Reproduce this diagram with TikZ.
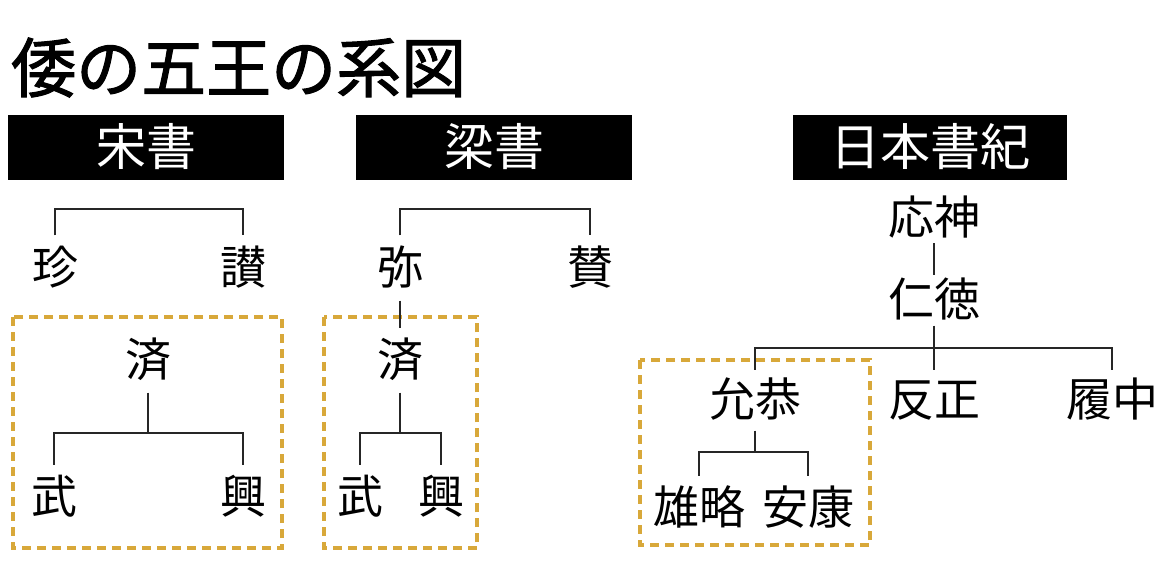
\documentclass[tikz,border=0pt]{standalone}
\usepackage{fontspec}
\newfontfamily\cjk{Noto Sans CJK JP}
\newfontfamily\cjkt{Noto Sans CJK JP}[FakeBold=1.6]
\begin{document}
\begin{tikzpicture}[x=1pt,y=-1pt,
  conn/.style={draw=black!85, line width=2pt},
  dbox/.style={draw={rgb,255:red,216;green,168;blue,58}, line width=3.5pt, dash pattern=on 9pt off 6pt},
  hdr/.style={fill=black, text=white, inner sep=0pt, minimum height=65pt,
    font=\cjk\fontsize{50}{50}\selectfont, text height=40pt, text depth=4pt},
  nm/.style={inner sep=0pt, outer ysep=12pt, font=\cjk\fontsize{46}{46}\selectfont,
    text height=37pt, text depth=4pt},
  ttl/.style={inner sep=0pt, anchor=west, font=\cjkt\fontsize{65}{65}\selectfont,
    text height=52pt, text depth=6pt}]
\fill[white] (0,0) rectangle (1170,564);
\useasboundingbox (0,0) rectangle (1170,564);

% title
\node[ttl] (title) at (11,69) {倭の五王の系図};

% headers
\node[hdr, minimum width=276pt] (song) at (146,147.5) {宋書};
\node[hdr, minimum width=276pt] (liang) at (494,147.5) {梁書};
\node[hdr, minimum width=274pt] (nihon) at (930,147.5) {日本書紀};

% dashed frames
\draw[dbox] (13,317) rectangle (282,548);
\draw[dbox] (324,317) rectangle (477,548);
\draw[dbox] (640,360) rectangle (870,545);

% Song shu
\node[nm] (chin) at (55,268) {珍};
\node[nm] (san) at (243,268) {讃};
\node[nm] (sai1) at (148,360) {済};
\node[nm] (bu1) at (54,497) {武};
\node[nm] (kou1) at (243,497) {興};
\coordinate (songtop) at (150,209);
\coordinate (songj) at (148,433);
\draw[conn] (chin.north) |- (songtop) -| (san.north);
\draw[conn] (sai1.south) -- (songj);
\draw[conn] (bu1.north) |- (songj) -| (kou1.north);

% Liang shu
\node[nm] (mi) at (400,268) {弥};
\node[nm] (san2) at (590,268) {賛};
\node[nm] (sai2) at (400,360) {済};
\node[nm] (bu2) at (360,497) {武};
\node[nm] (kou2) at (441,497) {興};
\coordinate (liangtop) at (495,209);
\coordinate (liangj) at (400,433);
\draw[conn] (mi.north) |- (liangtop) -| (san2.north);
\draw[conn] (mi.south) -- (sai2.north);
\draw[conn] (sai2.south) -- (liangj);
\draw[conn] (bu2.north) |- (liangj) -| (kou2.north);

% Nihon shoki
\node[nm, outer ysep=5pt] (ojin) at (934,218) {応神};
\node[nm, outer ysep=5pt] (nintoku) at (934,300) {仁徳};
\node[nm, outer ysep=10pt] (ingyo) at (755,400) {允恭};
\node[nm, outer ysep=10pt] (hanzei) at (934,400) {反正};
\node[nm, outer ysep=10pt] (richu) at (1112,400) {履中};
\node[nm] (yuryaku) at (699,508) {雄略};
\node[nm] (anko) at (808,508) {安康};
\coordinate (nj) at (934,348);
\coordinate (ij) at (755,452);
\draw[conn] (ojin.south) -- (nintoku.north);
\draw[conn] (nintoku.south) -- (hanzei.north);
\draw[conn] (ingyo.north) |- (nj) -| (richu.north);
\draw[conn] (ingyo.south) -- (ij);
\draw[conn] (yuryaku.north) |- (ij) -| (anko.north);
\end{tikzpicture}
\end{document}
